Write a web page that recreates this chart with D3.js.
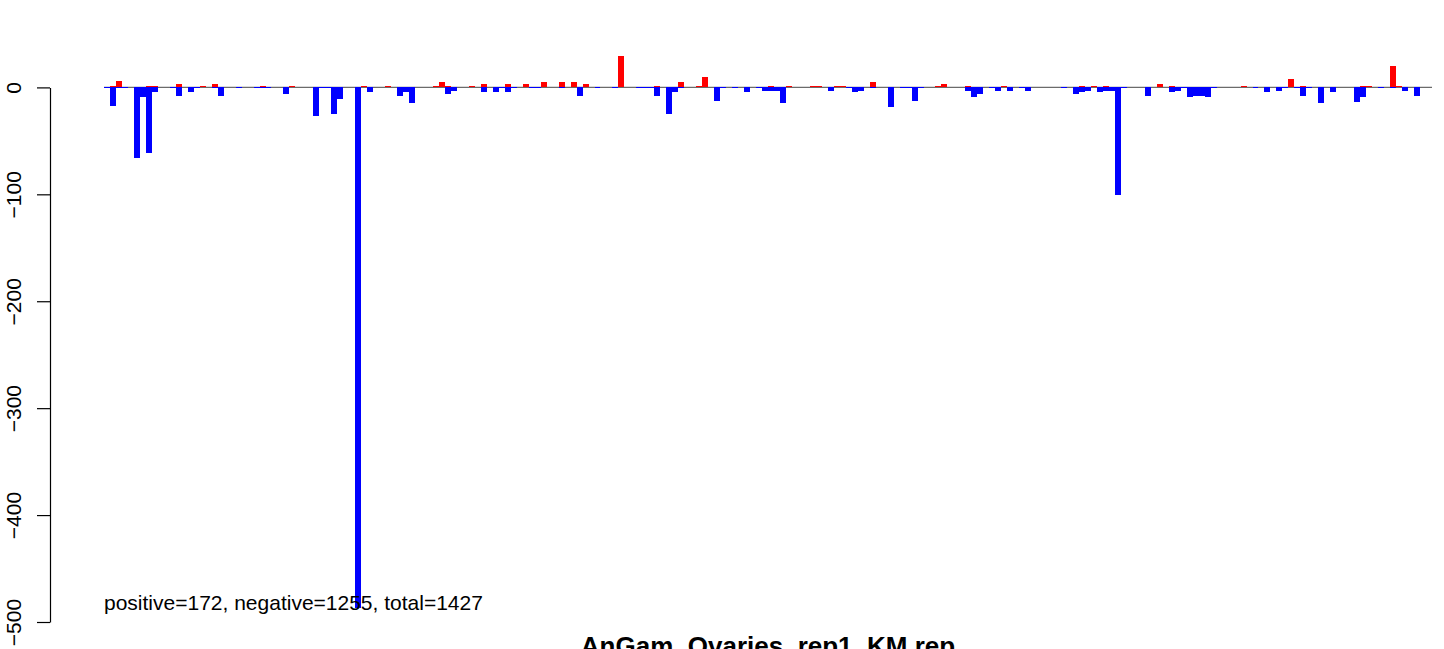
<!DOCTYPE html>
<html><head><meta charset="utf-8">
<script src="https://cdn.jsdelivr.net/npm/d3@7"></script>
<style>
body{margin:0;background:#fff}
svg{display:block;background:#fff}
text{font-family:"Liberation Sans",Arial,Helvetica,sans-serif}
</style>
</head><body>
<svg id="c" width="1444" height="649"></svg>
<script>
// counts per bin (220 bins)
const posCounts = [
 0,1,6,0,0,0,0,1,1,0, 0,0,3,0,0,0,1,0,3,0,
 0,0,0,0,0,0,1,0,0,0, 0,1,0,0,0,0,0,0,0,0,
 0,0,0,1,0,0,0,1,0,0, 0,0,0,0,0,1,5,1,0,0,
 0,1,0,3,0,0,0,3,0,0, 3,0,0,5,0,0,5,0,5,0,
 3,0,0,0,0,0,29,0,0,0, 0,0,1,0,0,0,5,0,0,1,
 10,0,0,0,0,0,0,0,0,0, 0,1,0,0,1,0,0,0,1,1,
 0,0,1,1,0,0,0,0,5,0, 0,0,0,0,0,0,0,0,0,1,
 3,0,0,0,1,0,0,0,0,0, 1,0,0,0,0,0,0,0,0,0,
 0,0,0,1,0,1,0,1,0,0, 0,0,0,0,0,0,3,0,1,0,
 0,0,0,0,0,0,0,0,0,0, 1,0,0,0,0,0,0,0,8,0,
 1,0,0,0,0,0,0,0,0,0, 1,1,0,0,0,20,1,0,0,0
];
const negCounts = [
 -1,-17,-1,-1,0,-66,-9,-61,-4,0, 0,-1,-8,0,-4,-1,0,0,-1,-8,
 0,0,-1,0,0,-1,-1,-1,0,0, -6,0,0,0,0,-27,-1,-1,-25,-11,
 0,0,-487,0,-4,0,0,0,0,-8, -4,-15,0,0,0,0,0,-6,-3,0,
 0,0,0,-4,0,-4,-1,-4,-1,0, 0,-1,-1,0,0,0,-1,0,0,-8,
 0,0,-1,0,0,-1,0,0,0,-1, -1,-1,-8,0,-25,-4,-1,0,0,0,
 0,0,-13,-1,0,-1,0,-4,0,-1, -3,-3,-3,-15,0,0,0,0,0,0,
 0,-3,0,0,-1,-4,-3,0,-1,0, 0,-18,0,-1,-1,-13,-1,0,0,0,
 0,0,0,0,-3,-9,-6,0,-1,-3, 0,-3,0,-1,-3,0,0,0,0,0,
 -1,0,-6,-4,-3,0,-4,-3,-3,-101, -1,0,0,0,-8,0,0,0,-4,-3,
 -1,-9,-8,-8,-9,-1,0,0,0,0, 0,0,-1,0,-4,0,-3,-1,0,-1,
 -8,-1,0,-15,0,-4,0,0,0,-14, -9,0,0,-1,0,-1,0,-3,0,-8
];
const yTicks = [0,-100,-200,-300,-400,-500];
const summaryText = "positive=172, negative=1255, total=1427";
const titleText = "AnGam_Ovaries_rep1_KM.rep";

const svg = d3.select("#c");
const n = posCounts.length;
const x = d3.scaleBand().domain(d3.range(n)).range([104, 1420]).padding(0);
const y = d3.scaleLinear().domain([-500, 0]).range([622, 87.4]);

// zero line
svg.append("line")
  .attr("x1", 104).attr("x2", 1432)
  .attr("y1", y(0)).attr("y2", y(0))
  .attr("stroke", "#6b6b6b").attr("stroke-width", 1.2);

// negative bars
svg.append("g").attr("shape-rendering", "crispEdges")
  .selectAll("rect").data(negCounts).join("rect")
  .attr("x", (d, i) => x(i)).attr("width", x.bandwidth())
  .attr("y", y(0)).attr("height", d => y(d) - y(0))
  .attr("fill", "#0000ff");

// positive bars
svg.append("g").attr("shape-rendering", "crispEdges")
  .selectAll("rect").data(posCounts).join("rect")
  .attr("x", (d, i) => x(i)).attr("width", x.bandwidth())
  .attr("y", d => y(d)).attr("height", d => y(0) - y(d))
  .attr("fill", "#ff0000");

// y axis
const ax = svg.append("g").attr("transform", "translate(50,0)")
  .call(d3.axisLeft(y).tickValues(yTicks).tickSize(13).tickSizeOuter(0).tickFormat(d3.format("d")));
ax.attr("font-family", null).attr("font-size", null);
ax.select(".domain").attr("stroke", "#000").attr("stroke-width", 1.2);
ax.selectAll(".tick line").attr("stroke", "#000").attr("stroke-width", 1.2);
ax.selectAll(".tick text")
  .attr("x", null).attr("dy", null)
  .attr("transform", "translate(-29.3,0) rotate(-90)")
  .attr("text-anchor", "middle")
  .attr("font-size", 21).attr("fill", "#000");

// summary text
svg.append("text").attr("x", 104).attr("y", 610)
  .attr("font-size", 21).attr("fill", "#000").text(summaryText);

// title
svg.append("text").attr("x", 768).attr("y", 655)
  .attr("text-anchor", "middle").attr("font-size", 26).attr("font-weight", "bold")
  .attr("fill", "#000").text(titleText);
</script>
</body></html>
